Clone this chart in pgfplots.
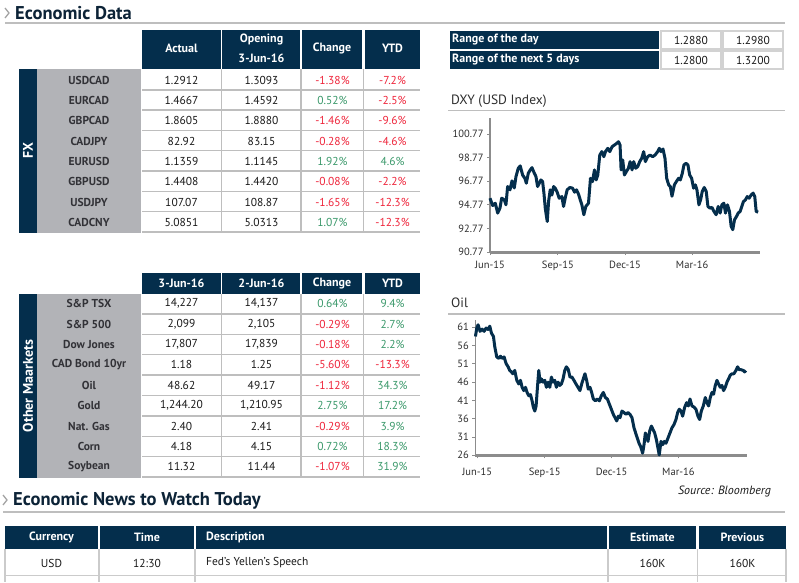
\documentclass[border=0pt]{standalone}
\usepackage{fontspec}
\setmainfont{PT Sans}
\usepackage{pgfplots}
\pgfplotsset{compat=1.18}
\definecolor{navy}{RGB}{4,46,76}
\definecolor{lblgray}{RGB}{178,179,183}
\definecolor{sepgray}{RGB}{190,190,190}
\definecolor{negred}{RGB}{238,36,58}
\definecolor{posgreen}{RGB}{58,152,106}
\definecolor{lbltext}{RGB}{50,50,55}
\definecolor{valtext}{RGB}{25,25,25}
\definecolor{titletext}{RGB}{12,35,55}
\definecolor{axgray}{RGB}{140,140,140}
\definecolor{ticktext}{RGB}{45,45,45}
\newcommand{\R}[1]{\textcolor{negred}{#1}}
\newcommand{\G}[1]{\textcolor{posgreen}{#1}}
\tikzset{
 lbl/.style={font=\fontsize{11.5}{13}\selectfont\bfseries, text=lbltext, inner sep=0pt},
 val/.style={font=\fontsize{11.5}{13}\selectfont, text=valtext, inner sep=0pt},
 hdr/.style={font=\fontsize{12}{13}\selectfont\bfseries, text=white, inner sep=0pt},
 vhdr/.style={font=\fontsize{14}{15}\selectfont\bfseries, text=white, inner sep=0pt, rotate=90},
 ttl/.style={font=\fontsize{18.5}{20}\selectfont\bfseries, text=titletext, inner sep=0pt, anchor=west},
 sttl/.style={font=\fontsize{13.5}{15}\selectfont, text=ticktext, inner sep=0pt, anchor=west},
}
\newcommand{\vrow}[6]{%
 \node[lbl] at (89,#1) {#2};
 \node[val] at (181.5,#1) {#3};
 \node[val] at (261.5,#1) {#4};
 \node[val] at (332.5,#1) {#5};
 \node[val] at (392.5,#1) {#6};
}
\pgfplotsset{minichart/.style={scale only axis, anchor=south west,
 axis x line*=bottom, axis y line*=left,
 axis line style={-, draw=axgray},
 y axis line style={line width=1.2pt},
 tick style={draw=axgray, line width=0.8pt}, major tick length=3pt, tick align=outside,
 tick label style={font=\fontsize{10.5}{12}\selectfont, text=ticktext},
 xtick={0,92,183,274}, xticklabels={Jun-15,Sep-15,Dec-15,Mar-16},
 clip=false}}
\begin{document}
\begin{tikzpicture}[x=1pt,y=1pt]
\path[use as bounding box] (0,0) rectangle (799,582);
\begin{scope}[yshift=582pt,yscale=-1]
% ---------- titles
\draw[axgray!80, line width=1.3pt] (5,8) -- (9,13) -- (5,18);
\node[ttl] at (15,13) {Economic Data};
\draw[sepgray, line width=2pt] (5,23) -- (785,23);
\draw[axgray!80, line width=1.3pt] (3,495) -- (7,500) -- (3,505);
\node[ttl] at (13,500.5) {Economic News to Watch Today};
\draw[sepgray, line width=2pt] (3,511.5) -- (785,511.5);
% ---------- FX table
\fill[navy] (142,30) rectangle (220.7,69.5);
\fill[navy] (222.3,30) rectangle (300.3,69.5);
\fill[navy] (301.8,30) rectangle (362.3,69.5);
\fill[navy] (365,30) rectangle (420,69.5);
\node[hdr] at (181.5,48) {Actual};
\node[hdr] at (261.5,39) {Opening};
\node[hdr] at (261.5,58) {3-Jun-16};
\node[hdr] at (332,48) {Change};
\node[hdr] at (392.5,48) {YTD};
\fill[navy] (19,69.5) rectangle (37,232.5);
\fill[lblgray] (37,69.5) rectangle (141,232.5);
\node[vhdr] at (28,151) {FX};
\foreach \k in {1,...,8} {\draw[sepgray, line width=1.5pt] (142,{69.5+20.3*\k}) -- (420,{69.5+20.3*\k});}
\foreach \xx in {221.5,301,363.7} {\draw[sepgray, line width=1.5pt] (\xx,69.5) -- (\xx,232.5);}
\vrow{80.2}{USDCAD}{1.2912}{1.3093}{\R{-1.38\%}}{\R{-7.2\%}}
\vrow{100.5}{EURCAD}{1.4667}{1.4592}{\G{0.52\%}}{\R{-2.5\%}}
\vrow{120.8}{GBPCAD}{1.8605}{1.8880}{\R{-1.46\%}}{\R{-9.6\%}}
\vrow{141.1}{CADJPY}{82.92}{83.15}{\R{-0.28\%}}{\R{-4.6\%}}
\vrow{161.4}{EURUSD}{1.1359}{1.1145}{\G{1.92\%}}{\G{4.6\%}}
\vrow{181.7}{GBPUSD}{1.4408}{1.4420}{\R{-0.08\%}}{\R{-2.2\%}}
\vrow{202.0}{USDJPY}{107.07}{108.87}{\R{-1.65\%}}{\R{-12.3\%}}
\vrow{222.3}{CADCNY}{5.0851}{5.0313}{\G{1.07\%}}{\R{-12.3\%}}
% ---------- Other markets table
\fill[navy] (142,273) rectangle (220.7,293.5);
\fill[navy] (222.3,273) rectangle (300.3,293.5);
\fill[navy] (301.8,273) rectangle (362.3,293.5);
\fill[navy] (365,273) rectangle (420,293.5);
\node[hdr] at (181.5,283.5) {3-Jun-16};
\node[hdr] at (261.5,283.5) {2-Jun-16};
\node[hdr] at (332,283.5) {Change};
\node[hdr] at (392.5,283.5) {YTD};
\fill[navy] (19,293.5) rectangle (37,477.5);
\fill[lblgray] (37,293.5) rectangle (141,477.5);
\node[vhdr] at (28,386) {Other Maarkets};
\foreach \k in {1,...,9} {\draw[sepgray, line width=1.5pt] (142,{293.5+20.4*\k}) -- (420,{293.5+20.4*\k});}
\foreach \xx in {221.5,301,363.7} {\draw[sepgray, line width=1.5pt] (\xx,293.5) -- (\xx,477.5);}
\vrow{303.7}{S\&P TSX}{14,227}{14,137}{\G{0.64\%}}{\G{9.4\%}}
\vrow{324.1}{S\&P 500}{2,099}{2,105}{\R{-0.29\%}}{\G{2.7\%}}
\vrow{344.5}{Dow Jones}{17,807}{17,839}{\R{-0.18\%}}{\G{2.2\%}}
\vrow{364.9}{CAD Bond 10yr}{1.18}{1.25}{\R{-5.60\%}}{\R{-13.3\%}}
\vrow{385.3}{Oil}{48.62}{49.17}{\R{-1.12\%}}{\G{34.3\%}}
\vrow{405.7}{Gold}{1,244.20}{1,210.95}{\G{2.75\%}}{\G{17.2\%}}
\vrow{426.1}{Nat. Gas}{2.40}{2.41}{\R{-0.29\%}}{\G{3.9\%}}
\vrow{446.5}{Corn}{4.18}{4.15}{\G{0.72\%}}{\G{18.3\%}}
\vrow{466.9}{Soybean}{11.32}{11.44}{\R{-1.07\%}}{\G{31.9\%}}
% ---------- Range table
\fill[navy] (450,31) rectangle (659,49);
\fill[navy] (450,51) rectangle (659,69);
\node[hdr, anchor=west] at (452,40) {Range of the day};
\node[hdr, anchor=west] at (452,60) {Range of the next 5 days};
\foreach \yy in {31,51} {
 \draw[sepgray!70, line width=1.5pt] (661,\yy) rectangle (721,\yy+18);
 \draw[sepgray!70, line width=1.5pt] (723,\yy) rectangle (783,\yy+18);}
\node[val] at (691,40) {1.2880};
\node[val] at (753,40) {1.2980};
\node[val] at (691,60) {1.2800};
\node[val] at (753,60) {1.3200};
% ---------- chart titles
\node[sttl] at (451,101) {DXY (USD Index)};
\draw[sepgray, line width=1.5pt] (448,110.5) -- (785,110.5);
\node[sttl] at (451,303) {Oil};
\draw[sepgray, line width=1.5pt] (448,314) -- (785,314);
\node[font=\fontsize{12}{13}\selectfont\itshape, text=valtext, anchor=east, inner sep=0pt] at (771,491) {Source: Bloomberg};
% ---------- bottom table
\fill[navy] (5,526) rectangle (98,549);
\fill[navy] (100,526) rectangle (194,549);
\fill[navy] (196,526) rectangle (607,549);
\fill[navy] (609,526) rectangle (696,549);
\fill[navy] (699,526) rectangle (786,549);
\node[hdr] at (51.5,537.5) {Currency};
\node[hdr] at (147,537.5) {Time};
\node[hdr, anchor=west] at (206,537.5) {Description};
\node[hdr] at (652.5,537.5) {Estimate};
\node[hdr] at (742.5,537.5) {Previous};
\foreach \xx in {5,99,195,608,697.5,786} {\draw[sepgray!80, line width=1.5pt] (\xx,549) -- (\xx,582);}
\draw[sepgray!80, line width=1.5pt] (5,575.5) -- (786,575.5);
\node[val] at (51.5,563) {USD};
\node[val] at (147,563) {12:30};
\node[val, anchor=west] at (206,563) {Fed’s Yellen’s Speech};
\node[val] at (652.5,563) {160K};
\node[val] at (742.5,563) {160K};
\end{scope}
% ---------- DXY chart
\begin{axis}[minichart, at={(490pt,330pt)}, width=270pt, height=134pt,
 xmin=0, xmax=366, ymin=90.77, ymax=102.13,
 x axis line style={line width=3pt},
 xticklabel style={yshift=-2.5pt},
 ytick={90.77,92.77,94.77,96.77,98.77,100.77},
 yticklabels={90.77,92.77,94.77,96.77,98.77,100.77}]
\addplot[navy, line width=3pt, line join=round] table {
0 95.33
3.6 94.71
7.2 94.90
10.4 94.07
13.5 94.49
15.8 95.33
19.4 95.20
21.6 94.77
23.9 96.32
27.1 96.04
29.8 96.80
32.9 96.20
35.2 97.16
38.3 97.87
41.0 98.07
44.2 97.30
47.4 97.00
49.2 96.60
51.9 97.45
54.6 97.73
56.9 97.92
59.1 97.59
62.3 97.16
64.5 96.32
66.7 96.60
69.0 96.88
71.3 96.74
73.1 95.76
74.9 94.49
76.2 93.93
77.6 93.36
79.4 95.05
81.6 96.04
83.9 95.60
86.2 96.32
88.4 96.18
90.7 95.90
93.8 95.33
97.4 95.47
99.7 94.63
101.9 95.33
104.6 96.04
108.3 96.24
111.9 96.18
114.6 95.84
117.3 96.04
120.0 95.67
122.3 95.20
124.5 94.77
127.2 93.93
129.9 94.63
133.5 94.91
136.2 97.02
138.9 96.74
141.6 97.73
143.9 96.88
146.1 97.30
148.8 98.99
151.6 99.28
154.3 98.85
156.5 99.28
159.7 99.56
162.4 99.28
165.5 99.70
168.7 99.84
171.8 99.98
174.1 100.12
176.3 99.84
177.7 97.73
179.9 98.57
182.2 97.30
184.9 97.59
187.6 97.87
189.9 98.43
192.6 97.73
194.8 98.43
197.5 97.87
200.2 98.01
202.9 98.43
205.6 98.71
208.3 99.28
210.6 98.43
213.7 98.85
216.9 98.99
220.5 98.85
223.7 98.99
227.3 99.28
229.5 99.56
231.8 99.28
234.5 99.50
237.2 98.71
239.5 97.02
242.2 96.46
244.4 96.32
246.7 95.50
249.9 96.46
252.6 96.74
255.7 97.02
258.0 96.88
260.7 97.45
262.9 98.15
265.6 98.29
268.3 98.15
270.6 97.31
273.3 97.02
276.0 96.18
278.3 96.46
280.5 96.04
283.2 94.77
285.5 95.19
287.7 95.90
290.4 96.24
293.1 95.90
295.4 94.63
298.1 94.49
300.8 94.55
303.5 94.21
306.6 93.93
309.3 94.63
312.0 94.07
314.3 94.77
317.0 94.91
319.2 94.07
321.9 94.77
324.6 94.21
326.9 92.94
329.1 92.66
331.4 93.50
334.1 93.78
336.4 94.07
339.1 94.21
341.3 94.63
343.6 95.05
346.3 95.19
348.6 95.47
351.3 95.33
354.0 95.61
356.7 95.76
358.9 95.47
360.8 94.21
363.5 94.15
};
\end{axis}
% ---------- Oil chart
\begin{axis}[minichart, at={(475.3pt,126.7pt)}, width=271.4pt, height=135.3pt,
 xmin=-2.5, xmax=367, ymin=26, ymax=63,
 x axis line style={line width=3.5pt},
 xticklabel style={yshift=-6pt},
 ytick={26,31,36,41,46,51,56,61},
 yticklabels={26,31,36,41,46,51,56,61}]
\addplot[navy, line width=3pt, line join=round] table {
-2.3 58.5
-0.5 60.8
1.3 61.7
4.0 59.9
6.7 60.5
9.5 59.9
12.2 60.8
14.9 60.4
17.2 61.3
19.5 59.4
22.2 58.5
24.0 55.7
26.7 52.9
29.5 52.5
31.7 53.1
34.0 52.5
36.7 52.9
39.4 51.1
42.2 50.2
44.4 49.2
46.7 48.8
48.5 48.3
51.2 49.2
54.0 46.5
56.7 45.5
59.0 46.5
61.2 44.6
63.5 43.7
65.8 44.6
68.0 43.2
70.3 42.3
72.6 42.6
74.8 40.9
76.6 39.1
78.5 38.1
80.3 39.5
82.1 44.6
83.9 49.2
85.7 46.0
87.5 46.9
89.8 46.0
92.1 46.5
94.3 44.6
96.6 46.0
98.9 44.6
101.1 47.4
103.4 46.0
105.7 46.5
107.9 44.6
110.2 46.0
112.5 45.1
114.7 45.5
117.0 46.9
119.3 49.2
121.5 50.2
124.0 49.5
126.4 47.4
129.1 47.4
131.8 46.5
134.6 45.5
137.3 44.6
140.0 43.7
142.3 45.5
144.5 46.9
146.8 48.3
149.1 46.5
151.3 44.1
153.6 44.6
155.9 43.2
158.2 41.4
160.9 40.9
163.6 41.4
166.4 40.9
169.1 42.3
171.8 43.2
174.5 41.8
177.3 41.4
180.0 40.0
182.7 38.6
185.4 37.2
187.7 36.3
190.0 35.4
192.2 36.7
194.5 36.3
197.2 38.1
199.9 37.7
202.7 37.2
205.4 37.7
208.1 37.2
210.8 36.3
213.6 33.5
215.8 32.1
218.1 30.7
220.4 29.3
222.6 28.4
225.3 26.6
227.2 28.9
229.0 32.1
230.8 31.2
232.6 29.8
234.9 32.6
237.2 34.0
239.4 33.1
241.7 32.1
244.0 30.3
245.8 28.4
247.9 26.1
250.3 29.8
252.5 28.9
254.8 29.8
257.1 29.3
259.8 30.7
262.5 32.1
265.2 33.5
268.0 34.4
270.7 35.8
273.0 37.7
275.2 38.6
277.5 38.1
279.8 36.7
282.5 39.1
285.2 40.4
287.5 39.5
289.8 41.4
292.5 39.5
295.2 39.2
297.9 38.6
300.6 36.7
302.9 35.8
305.2 38.1
307.9 39.5
310.6 41.8
312.9 40.4
315.1 39.5
317.4 41.8
319.7 43.2
321.9 42.7
324.2 45.1
326.5 46.5
328.7 45.5
331.0 44.6
333.3 45.1
335.5 43.7
337.8 44.6
340.1 46.0
342.3 46.9
344.6 47.9
346.9 48.3
349.6 48.3
352.3 49.2
354.6 50.2
356.8 49.4
359.6 49.4
362.3 49.2
364.1 48.8
365.9 49.2
};
\end{axis}
\end{tikzpicture}
\end{document}
